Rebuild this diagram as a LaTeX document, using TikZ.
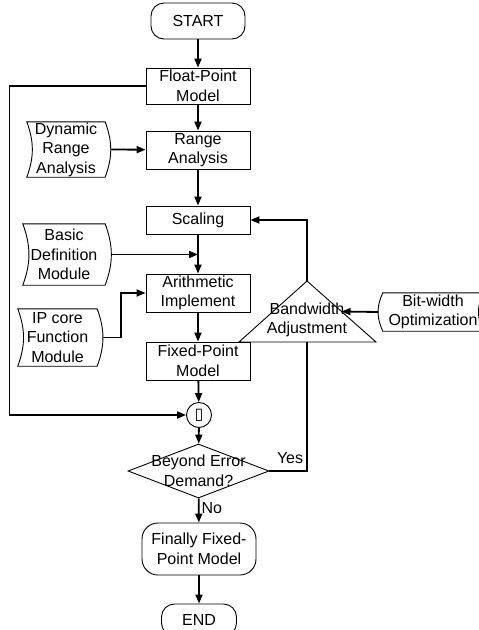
\documentclass[tikz,border=0pt]{standalone}
\usepackage{fontspec}
\setmainfont{Liberation Sans}
\newfontfamily\symfont{DejaVu Sans}
\usetikzlibrary{shapes.geometric,arrows.meta,calc}

\begin{document}
\begin{tikzpicture}[x=1pt,y=-1pt,font=\fontsize{16}{19.5}\selectfont,
    >={Triangle[length=9pt,width=7pt]}]

      \useasboundingbox (0,0) rectangle (479,630);
      \clip (0,0) rectangle (479,630);

      % terminals
      \begin{scope}[every node/.style={draw,line width=0.9pt,rectangle,align=center,inner sep=0pt}]
        \node[rounded corners=13pt,minimum width=94pt,minimum height=36pt] (start) at (198,21) {START};
        \node[rounded corners=16pt,minimum width=114pt,minimum height=52pt] (ffm) at (199,549) {Finally Fixed-\\Point Model};
        \node[rounded corners=13pt,minimum width=75pt,minimum height=32pt] (end) at (199,620) {END};
      \end{scope}

      % main column
      \begin{scope}[every node/.style={draw,line width=0.9pt,rectangle,align=center,inner sep=0pt,minimum width=104pt}]
        \node[minimum height=36pt] (fpm) at (198,86)  {Float-Point\\Model};
        \node[minimum height=38pt] (ra)  at (198,150) {Range\\Analysis};
        \node[minimum height=28pt] (sc)  at (198,220) {Scaling};
        \node[minimum height=38pt] (ai)  at (198,293) {Arithmetic\\Implement};
        \node[minimum height=38pt] (fxm) at (198,361) {Fixed-Point\\Model};
        \node[circle,minimum width=25pt] (sum) at (199,415) {\symfont\fontsize{16}{16}\selectfont ▯};
        \node[diamond,minimum width=141pt,minimum height=54pt,
          label={[align=center]center:Beyond Error\\Demand?}] (dec) at (198.5,471) {};
      \end{scope}

      % data inputs
      \begin{scope}[every node/.style={align=center,inner sep=0pt}]
        \node[minimum width=78pt,minimum height=55pt] (dra) at (66,149.5)  {Dynamic\\Range\\Analysis};
        \node[minimum width=82pt,minimum height=61pt] (bdm) at (64,254.5)  {Basic\\Definition\\Module};
        \node[minimum width=79pt,minimum height=57pt] (ipm) at (57.5,337.5) {IP core\\Function\\Module};
        \node[minimum width=100pt,minimum height=38pt] (bwo) at (433,312) {Bit-width\\Optimization};
        \node (bwa) at (307,320) {Bandwidth\\Adjustment};
      \end{scope}

      \foreach \n in {dra,bdm,ipm}
        \draw[line width=0.9pt] (\n.north west) to[bend left=20] (\n.south west) -- (\n.south east)
          to[bend right=20] coordinate[pos=.5] (\n-out) (\n.north east) -- cycle;
      \draw[line width=0.9pt] (bwo.north west) to[bend right=25] coordinate[pos=.5] (bwo-in) (bwo.south west)
        -- (bwo.south east) to[bend left=25] (bwo.north east) -- cycle;

      % triangle
      \coordinate (tri top)   at (307,281);
      \coordinate (tri left)  at (239,342);
      \coordinate (tri right) at (376,342);
      \coordinate (tri base)  at (307,342);
      \coordinate (tri in)    at ($(tri top)!0.5!(tri right)$);
      \draw[line width=0.9pt] (tri top) -- (tri left) -- (tri right) -- cycle;

      \begin{scope}[line width=1.8pt]
        \begin{scope}[every edge/.style={draw,->}]
          \path (start) edge (fpm);
          \path (fpm)   edge (ra);
          \path (ra)    edge (sc);
          \path (sc)    edge (ai);
          \path (ai)    edge (fxm);
          \path (fxm)   edge (sum);
          \path (sum)   edge (dec);
          \path (dec)   edge node[pos=.4,right,inner sep=2pt] {No} (ffm);
          \path (ffm)   edge (end);
          \path (dra-out) edge (ra);
          \path (bwo-in)  edge (tri in);
          \path (bdm-out) edge (bdm-out -| sc.south);
        \end{scope}

        \draw[->] (ipm-out) -- ++(18,0) |- (ai.west);
        \draw[->] (fpm.west) -- ++(-136,0) |- (sum.west);
        \draw[->] (tri top) |- (sc.east);
        \draw (dec.east) -| node[pos=.5,above left,inner xsep=3pt,inner ysep=6pt] {Yes} (tri base);
      \end{scope}

    \end{tikzpicture}
\end{document}
